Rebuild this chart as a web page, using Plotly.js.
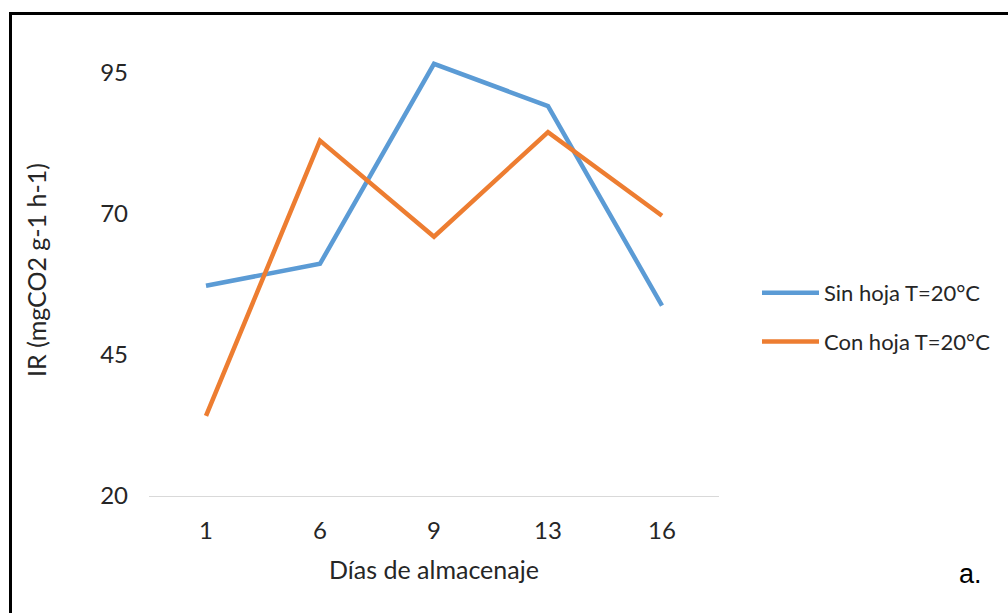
<!DOCTYPE html>
<html>
<head>
<meta charset="utf-8">
<script src="https://cdn.plot.ly/plotly-3.0.1.min.js"></script>
<style>
  html, body { margin: 0; padding: 0; background: #ffffff; }
  #wrap { position: relative; width: 1008px; height: 613px; overflow: hidden; }
  #chart { position: absolute; left: 0; top: 0; width: 1008px; height: 613px; }
  #frame { position: absolute; left: 9px; top: 12px; width: 1100px; height: 700px;
           border-top: 3px solid #000; border-left: 3px solid #000; pointer-events: none; }
</style>
</head>
<body>
<div id="wrap">
  <div id="chart"></div>
  <div id="frame"></div>
</div>
<script>
const days = ['1', '6', '9', '13', '16'];
const sinHoja = [57.2, 61.1, 96.5, 89.0, 53.7];
const conHoja = [34.2, 82.9, 65.9, 84.4, 69.6];
const seriesNames = ['Sin hoja T=20°C', 'Con hoja T=20°C'];
const yTicks = [20, 45, 70, 95];

const FONT = 'Lato, Carlito, Calibri, sans-serif';
const TXT = '#262626';

const traces = [
  { x: days, y: sinHoja, name: seriesNames[0], type: 'scatter', mode: 'lines',
    legendgroup: 'a',
    line: { color: '#5B9BD5', width: 4.5, shape: 'linear' } },
  { x: days, y: conHoja, name: seriesNames[1], type: 'scatter', mode: 'lines',
    legendgroup: 'b',
    line: { color: '#ED7D31', width: 4.5, shape: 'linear' } }
];

const layout = {
  width: 1008, height: 613,
  margin: { l: 149, r: 289, t: 44, b: 117 },
  paper_bgcolor: '#ffffff', plot_bgcolor: '#ffffff',
  font: { family: FONT, size: 22, color: TXT },
  showlegend: true,
  legend: {
    xref: 'container', yref: 'container',
    x: 757 / 1008, y: 1 - 272 / 613, xanchor: 'left', yanchor: 'top',
    traceorder: 'grouped', tracegroupgap: 17,
    font: { family: FONT, size: 22, color: TXT },
    bgcolor: 'rgba(0,0,0,0)', itemwidth: 57
  },
  xaxis: {
    type: 'category', categoryorder: 'array', categoryarray: days,
    range: [-0.5, 4.5],
    showgrid: false, zeroline: false,
    showline: true, linecolor: '#d9d9d9', linewidth: 1,
    ticks: '', ticklabelstandoff: 13,
    tickfont: { family: FONT, size: 24, color: TXT },
    title: { text: 'Días de almacenaje', font: { family: FONT, size: 25, color: TXT }, standoff: 18 }
  },
  yaxis: {
    range: [20, 100], tickvals: yTicks, ticktext: yTicks.map(String),
    showgrid: false, zeroline: false, showline: false,
    ticks: '', ticklabelstandoff: 20,
    tickfont: { family: FONT, size: 24, color: TXT },
    title: { text: 'IR (mgCO2 g-1 h-1)', font: { family: FONT, size: 25, color: TXT }, standoff: 46 }
  },
  annotations: [
    { xref: 'paper', yref: 'paper', x: (957 - 149) / 570, y: -(574 - 496) / 452,
      xanchor: 'left', yanchor: 'middle', showarrow: false, text: 'a.',
      font: { family: 'Liberation Sans, Arial, sans-serif', size: 27, color: '#000' } }
  ]
};

Plotly.newPlot('chart', traces, layout, { displayModeBar: false, staticPlot: true });
</script>
</body>
</html>
